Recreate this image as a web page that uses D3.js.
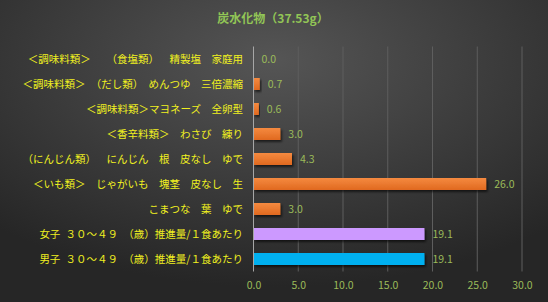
<!DOCTYPE html>
<html>
<head>
<meta charset="utf-8">
<script src="https://cdn.jsdelivr.net/npm/d3@7"></script>
<style>
  html, body { margin: 0; padding: 0; background: #2a2a2a; }
  svg { display: block; font-family: "Noto Sans CJK JP", "Noto Sans", sans-serif; }
</style>
</head>
<body>
<div id="chart"></div>
<script>
const title = "炭水化物（37.53g）";
const categories = [
  "＜調味料類＞　\u2002（食塩類）　\u2002精製塩　家庭用",
  "＜調味料類＞　（だし類）　めんつゆ　三倍濃縮",
  "＜調味料類＞マヨネーズ　全卵型",
  "＜香辛料類＞　わさび　練り",
  "（にんじん類）　\u2002にんじん　根　皮なし　ゆで",
  "＜いも類＞　じゃがいも　塊茎　皮なし　生",
  "こまつな　葉　ゆで",
  "女子\u2002３０～４９\u2002（歳）推進量/１食あたり",
  "男子\u2002３０～４９\u2002（歳）推進量/１食あたり"
];
const values = [0.0, 0.7, 0.6, 3.0, 4.3, 26.0, 3.0, 19.1, 19.1];
const barColors = ["orange", "orange", "orange", "orange", "orange", "orange", "orange", "#cc99ff", "#00b0f0"];
const xTicks = [0, 5, 10, 15, 20, 25, 30];

const W = 548, H = 302;
const margin = {top: 46.5, right: 26, bottom: 30.5, left: 253.5};

const svg = d3.select("#chart").append("svg")
    .attr("width", W)
    .attr("height", H);

const defs = svg.append("defs");
const bg = defs.append("radialGradient")
    .attr("id", "bg")
    .attr("cx", "50%").attr("cy", "20%").attr("r", "75%");
bg.append("stop").attr("offset", "0%").attr("stop-color", "#555555");
bg.append("stop").attr("offset", "100%").attr("stop-color", "#262626");

const og = defs.append("linearGradient")
    .attr("id", "orange")
    .attr("x1", 0).attr("y1", 0).attr("x2", 0).attr("y2", 1);
og.append("stop").attr("offset", "0%").attr("stop-color", "#f58a40");
og.append("stop").attr("offset", "100%").attr("stop-color", "#e0691f");

const shadow = defs.append("filter")
    .attr("id", "shadow")
    .attr("x", "-10%").attr("y", "-30%").attr("width", "130%").attr("height", "180%");
shadow.append("feDropShadow")
    .attr("dx", 1.5).attr("dy", 2)
    .attr("stdDeviation", 1.2)
    .attr("flood-color", "#000")
    .attr("flood-opacity", 0.6);

svg.append("rect")
    .attr("width", W).attr("height", H)
    .attr("fill", "url(#bg)");

svg.append("text")
    .attr("x", 273).attr("y", 23)
    .attr("text-anchor", "middle")
    .attr("font-size", 12)
    .attr("font-weight", "bold")
    .attr("fill", "#92c556")
    .text(title);

const x = d3.scaleLinear()
    .domain([0, 30])
    .range([margin.left, W - margin.right]);

const y = d3.scaleBand()
    .domain(categories)
    .range([margin.top, H - margin.bottom])
    .paddingInner(0.52)
    .paddingOuter(0.26);

// gridlines
svg.append("g")
    .selectAll("line")
    .data(xTicks.slice(1))
    .join("line")
    .attr("x1", d => x(d)).attr("x2", d => x(d))
    .attr("y1", margin.top).attr("y2", H - margin.bottom)
    .attr("stroke", "#5e5e5e")
    .attr("stroke-width", 1);

// bars
svg.append("g")
    .selectAll("rect")
    .data(values)
    .join("rect")
    .attr("x", x(0))
    .attr("y", (d, i) => y(categories[i]))
    .attr("width", d => x(d) - x(0))
    .attr("height", y.bandwidth())
    .attr("fill", (d, i) => barColors[i] === "orange" ? "url(#orange)" : barColors[i])
    .attr("filter", "url(#shadow)");

// axis line at zero
svg.append("line")
    .attr("x1", x(0)).attr("x2", x(0))
    .attr("y1", margin.top).attr("y2", H - margin.bottom)
    .attr("stroke", "#a6a6a6")
    .attr("stroke-width", 1);

// category labels
svg.append("g")
    .selectAll("text")
    .data(categories)
    .join("text")
    .attr("x", 243)
    .attr("y", d => y(d) + y.bandwidth() / 2)
    .attr("dy", "0.35em")
    .attr("text-anchor", "end")
    .attr("font-size", 10.5)
    .attr("fill", "#f0f020")
    .text(d => d);

// value labels
svg.append("g")
    .selectAll("text")
    .data(values)
    .join("text")
    .attr("x", d => x(d) + 8)
    .attr("y", (d, i) => y(categories[i]) + y.bandwidth() / 2)
    .attr("dy", "0.35em")
    .attr("font-size", 10.5)
    .attr("fill", "#9bbb59")
    .text(d => d.toFixed(1));

// x tick labels
const xAxis = svg.append("g")
    .attr("transform", `translate(0,${H - margin.bottom})`)
    .call(d3.axisBottom(x).tickValues(xTicks).tickFormat(d3.format(".1f")).tickSize(0).tickPadding(10));
xAxis.select(".domain").remove();
xAxis.selectAll("text")
    .attr("font-size", 10.5)
    .attr("font-family", "\"Noto Sans CJK JP\", sans-serif")
    .attr("fill", "#9bbb59");
</script>
</body>
</html>
